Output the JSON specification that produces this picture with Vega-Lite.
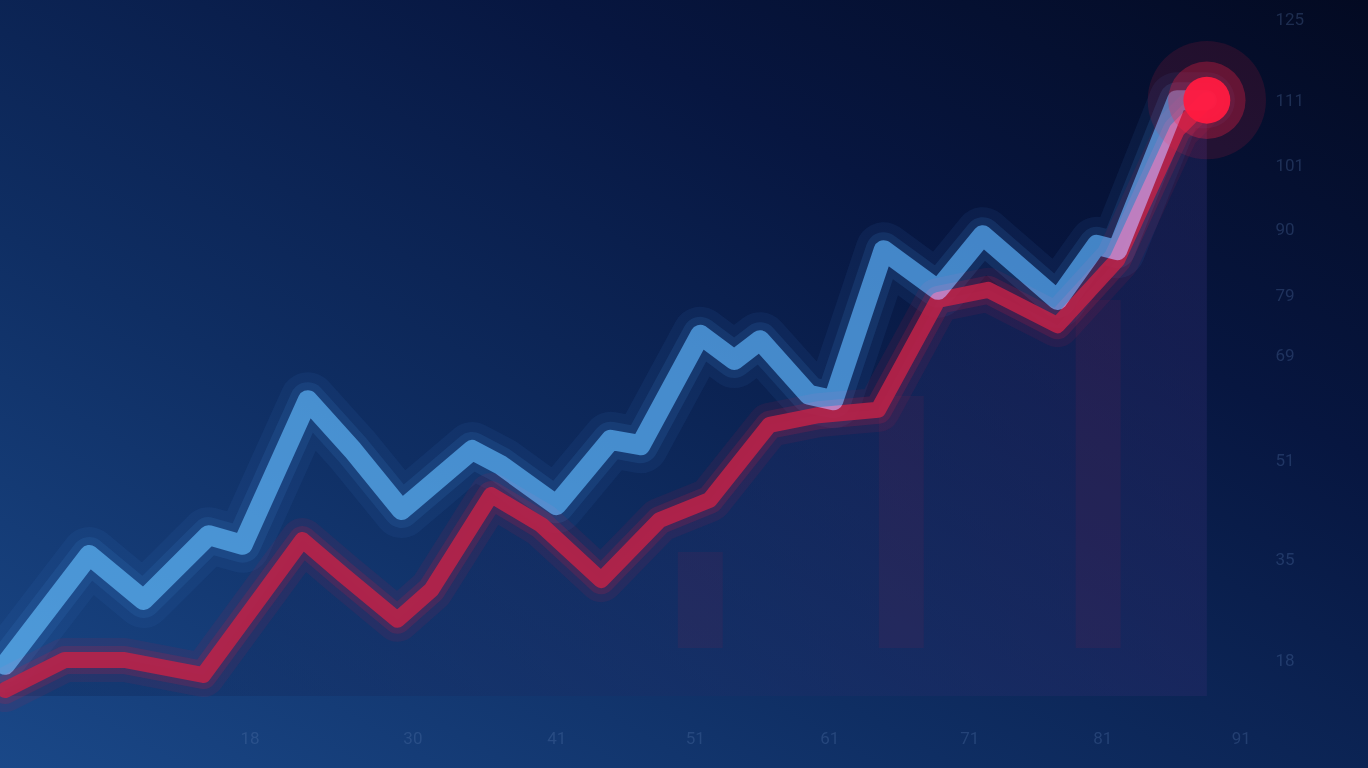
{
  "$schema": "https://vega.github.io/schema/vega-lite/v6.json",
  "width": 1368,
  "height": 768,
  "padding": 0,
  "autosize": {"type": "none"},
  "background": "#061230",
  "view": {"stroke": null, "fill": {"gradient": "linear", "x1": 0, "y1": 1, "x2": 1, "y2": 0,
    "stops": [{"offset": 0, "color": "#1a4888"}, {"offset": 0.35, "color": "#0f2e63"}, {"offset": 0.7, "color": "#071640"}, {"offset": 1, "color": "#030a22"}]}},
  "datasets": {
    "blue": [
      {"day": 0, "value": 17.2}, {"day": 6.2, "value": 35.5}, {"day": 10.2, "value": 28}, {"day": 15, "value": 38.8},
      {"day": 17.5, "value": 37.2}, {"day": 22.3, "value": 61.3}, {"day": 25.6, "value": 53}, {"day": 29.2, "value": 43},
      {"day": 34.4, "value": 53}, {"day": 36.5, "value": 50.5}, {"day": 40.6, "value": 43.8}, {"day": 44.6, "value": 54.7},
      {"day": 46.8, "value": 53.8}, {"day": 51.2, "value": 72.2}, {"day": 53.7, "value": 68}, {"day": 55.6, "value": 71.3},
      {"day": 59.2, "value": 62.2}, {"day": 61, "value": 61.3}, {"day": 64.7, "value": 86.3}, {"day": 68.7, "value": 79.7},
      {"day": 72, "value": 88.8}, {"day": 77.5, "value": 78}, {"day": 80.4, "value": 87.2}, {"day": 81.9, "value": 86.3},
      {"day": 86.3, "value": 111.3}, {"day": 88.5, "value": 111.3}
    ],
    "red": [
      {"day": 0, "value": 13}, {"day": 4.4, "value": 18}, {"day": 8.8, "value": 18}, {"day": 14.6, "value": 15.5},
      {"day": 21.9, "value": 38}, {"day": 24.9, "value": 32.2}, {"day": 28.9, "value": 24.7}, {"day": 31.4, "value": 29.7},
      {"day": 35.8, "value": 45.5}, {"day": 39.5, "value": 40.5}, {"day": 43.9, "value": 31.3}, {"day": 48.2, "value": 41.3},
      {"day": 51.9, "value": 44.7}, {"day": 56.3, "value": 57.2}, {"day": 59.9, "value": 58.8}, {"day": 64.3, "value": 59.7},
      {"day": 68.7, "value": 78}, {"day": 72.4, "value": 79.7}, {"day": 77.5, "value": 73.8}, {"day": 81.9, "value": 84.7},
      {"day": 86.3, "value": 106.3}, {"day": 88.5, "value": 111.3}
    ],
    "bars": [
      {"day": 51.2, "value": 36}, {"day": 66, "value": 62}, {"day": 80.5, "value": 78}
    ],
    "last": [{"day": 88.5, "value": 111.3}]
  },
  "encoding": {
    "x": {"field": "day", "type": "quantitative", "scale": {"domain": [0, 100], "nice": false, "zero": false},
      "axis": {"orient": "bottom", "offset": -40, "values": [18, 30, 40.6, 50.8, 60.7, 71, 80.8, 91], "format": ".0f", "domain": false, "ticks": false, "grid": false, "labelColor": "#5a7ab0", "labelOpacity": 0.3, "labelFontSize": 17, "labelFont": "Roboto", "title": null}},
    "y": {"field": "value", "type": "quantitative", "scale": {"domain": [0, 128], "nice": false, "zero": false},
      "axis": {"orient": "right", "offset": -95, "values": [18, 34.7, 51.3, 68.8, 78.8, 89.7, 100.5, 111.3, 124.7], "format": ".0f", "domain": false, "ticks": false, "grid": false, "labelColor": "#5a7ab0", "labelOpacity": 0.3, "labelFontSize": 17, "labelFont": "Roboto", "title": null}}
  },
  "layer": [
    {
      "data": {"name": "red"},
      "mark": {"type": "area", "opacity": 0.4, "interpolate": "linear", "color": {"gradient": "linear", "x1": 0, "y1": 0, "x2": 1, "y2": 0,
        "stops": [{"offset": 0, "color": "#0d2a5c"}, {"offset": 0.6, "color": "#1c2d66"}, {"offset": 1, "color": "#2a2a6a"}]}},
      "encoding": {"y2": {"datum": 12}}
    },
    {
      "data": {"name": "bars"},
      "mark": {"type": "bar", "width": 45, "color": "#7a2050", "opacity": 0.14},
      "encoding": {"y2": {"datum": 20}}
    },
    {
      "data": {"name": "blue"},
      "mark": {"type": "line", "color": "#3a78c0", "strokeWidth": 56, "opacity": 0.1, "strokeJoin": "round", "strokeCap": "round"},
      "encoding": {}
    },
    {
      "data": {"name": "blue"},
      "mark": {"type": "line", "color": "#3a78c0", "strokeWidth": 36, "opacity": 0.18, "strokeJoin": "round", "strokeCap": "round"},
      "encoding": {}
    },
    {
      "data": {"name": "red"},
      "mark": {"type": "line", "color": "#c02048", "strokeWidth": 44, "opacity": 0.1, "strokeJoin": "round", "strokeCap": "round"},
      "encoding": {}
    },
    {
      "data": {"name": "red"},
      "mark": {"type": "line", "color": "#c02048", "strokeWidth": 28, "opacity": 0.2, "strokeJoin": "round", "strokeCap": "round"},
      "encoding": {}
    },
    {
      "data": {"name": "red"},
      "mark": {"type": "line", "color": "#bf2248", "strokeWidth": 16, "opacity": 0.85, "strokeJoin": "round", "strokeCap": "round"},
      "encoding": {}
    },
    {
      "data": {"name": "blue"},
      "mark": {"type": "line", "color": "#3d7cc2", "strokeWidth": 20, "opacity": 0.85, "strokeJoin": "round", "strokeCap": "round", "blend": "screen"},
      "encoding": {}
    },
    {
      "data": {"name": "last"},
      "mark": {"type": "point", "filled": true, "color": "#ff2045", "size": 14000, "opacity": 0.12},
      "encoding": {}
    },
    {
      "data": {"name": "last"},
      "mark": {"type": "point", "filled": true, "color": "#ff2045", "size": 6000, "opacity": 0.3},
      "encoding": {}
    },
    {
      "data": {"name": "last"},
      "mark": {"type": "point", "filled": true, "color": "#ff1a40", "size": 2200, "opacity": 0.95},
      "encoding": {}
    }
  ]
}
